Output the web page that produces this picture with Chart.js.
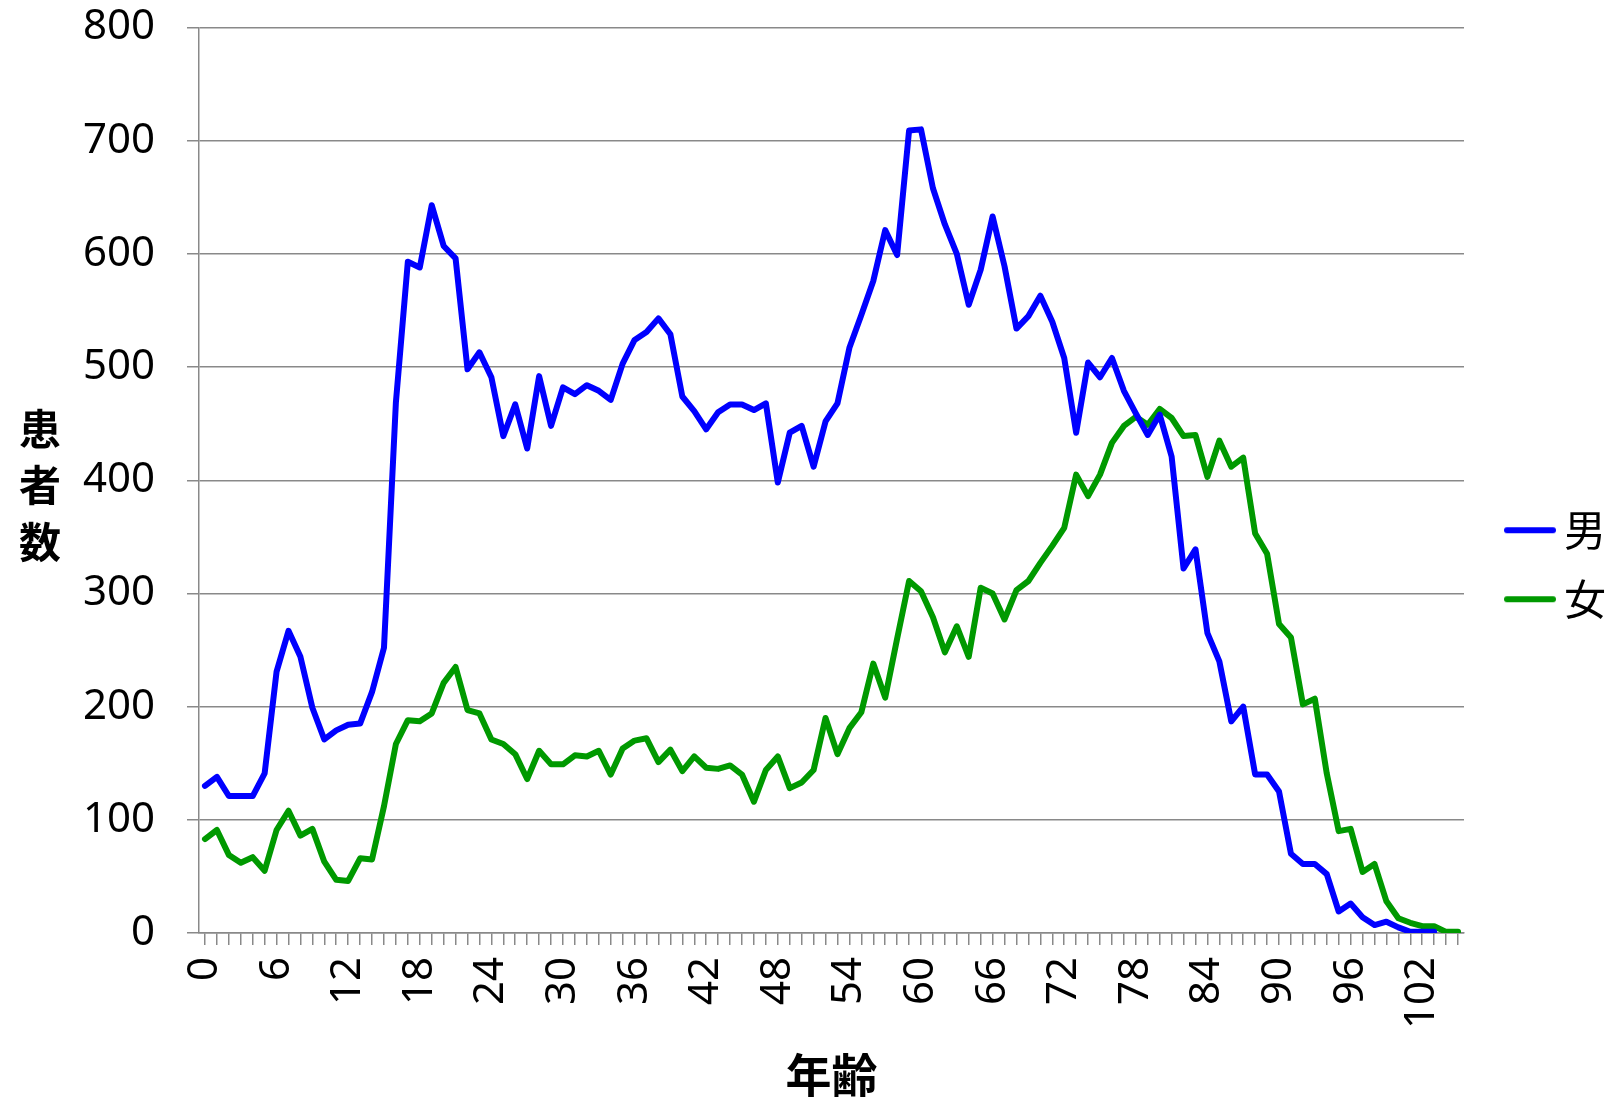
<!DOCTYPE html>
<html lang="ja">
<head>
<meta charset="utf-8">
<title>年齢別患者数</title>
<script src="https://cdn.jsdelivr.net/npm/chart.js@4.4.1/dist/chart.umd.min.js"></script>
<style>
  html, body { margin: 0; padding: 0; background: #fff; }
  #wrap { position: relative; width: 1616px; height: 1102px; }
</style>
</head>
<body>
<div id="wrap"><canvas id="grafico"></canvas></div>
<script>
// 年齢 (カテゴリ)
const ages = [
  '0','1','2','3','4','5','6','7','8','9',
  '10','11','12','13','14','15','16','17','18','19',
  '20','21','22','23','24','25','26','27','28','29',
  '30','31','32','33','34','35','36','37','38','39',
  '40','41','42','43','44','45','46','47','48','49',
  '50','51','52','53','54','55','56','57','58','59',
  '60','61','62','63','64','65','66','67','68','69',
  '70','71','72','73','74','75','76','77','78','79',
  '80','81','82','83','84','85','86','87','88','89',
  '90','91','92','93','94','95','96','97','98','99',
  '100','101','102','103','104','105'
];
// 目盛ラベル (6歳ごと)
const xTickLabels = ['0','6','12','18','24','30','36','42','48','54','60','66','72','78','84','90','96','102'];

// 患者数 男 (0〜103歳)
const male = [
  130, 138, 121, 121, 121, 141, 231, 267, 244, 199,
  171, 179, 184, 185, 213, 252, 469, 593, 588, 643,
  607, 596, 498, 513, 491, 439, 467, 428, 492, 448,
  482, 476, 484, 479, 471, 503, 524, 531, 543, 529,
  474, 461, 445, 460, 467, 467, 462, 468, 398, 442,
  448, 412, 452, 468, 517, 546, 576, 621, 599, 709,
  710, 658, 626, 600, 555, 586, 633, 589, 534, 545,
  563, 540, 508, 442, 504, 491, 508, 479, 459, 440,
  458, 421, 322, 339, 265, 240, 187, 200, 140, 140,
  125, 70, 61, 61, 52, 19, 26, 14, 7, 10,
  5, 1, 1, 1
];
// 患者数 女 (0〜105歳)
const female = [
  83, 91, 69, 62, 67, 55, 91, 108, 86, 92,
  63, 47, 46, 66, 65, 112, 167, 188, 187, 194,
  221, 235, 197, 194, 171, 167, 158, 136, 161, 149,
  149, 157, 156, 161, 140, 163, 170, 172, 151, 162,
  143, 156, 146, 145, 148, 140, 116, 144, 156, 128,
  133, 144, 190, 158, 181, 195, 238, 208, 260, 311,
  302, 279, 248, 271, 244, 305, 300, 277, 303, 311,
  327, 342, 358, 405, 386, 405, 433, 448, 456, 449,
  463, 455, 439, 440, 403, 435, 412, 420, 353, 335,
  273, 261, 202, 207, 141, 90, 92, 54, 61, 28,
  13, 9, 6, 6, 1, 1
];

const yTitle = ['患', '者', '数'];
const gridGray = '#898989';
const blue = '#0000ff';
const green = '#009900';

Chart.defaults.font.family = '"Noto Sans", "Noto Sans CJK JP", sans-serif';
Chart.defaults.color = '#000';

// 凡例の線 (文字に近づけるため右寄せで描く)
function legendMarker(color) {
  const c = document.createElement('canvas');
  c.width = 80;
  c.height = 10;
  const g = c.getContext('2d');
  g.strokeStyle = color;
  g.lineWidth = 6;
  g.lineCap = 'round';
  g.beginPath();
  g.moveTo(30, 5);
  g.lineTo(76, 5);
  g.stroke();
  return c;
}

// 縦書きの軸タイトル
const yTitlePlugin = {
  id: 'yTitle',
  afterDraw(chart) {
    const { ctx, chartArea } = chart;
    const mid = (chartArea.top + chartArea.bottom) / 2 + 5;
    ctx.save();
    ctx.font = 'bold 42px "Noto Sans CJK JP"';
    ctx.fillStyle = '#000';
    ctx.textAlign = 'center';
    ctx.textBaseline = 'middle';
    yTitle.forEach((ch, i) => ctx.fillText(ch, 40, mid + (i - 1) * 56.5));
    ctx.restore();
  }
};

const ctx = document.getElementById('grafico');
new Chart(ctx, {
  type: 'line',
  data: {
    labels: ages,
    datasets: [{
      label: '男',
      data: male,
      borderColor: blue,
      backgroundColor: blue,
      borderWidth: 6,
      pointRadius: 0,
      pointStyle: legendMarker(blue),
      borderJoinStyle: 'round',
      borderCapStyle: 'round',
      tension: 0
    }, {
      label: '女',
      data: female,
      borderColor: green,
      backgroundColor: green,
      borderWidth: 6,
      pointRadius: 0,
      pointStyle: legendMarker(green),
      borderJoinStyle: 'round',
      borderCapStyle: 'round',
      tension: 0
    }]
  },
  options: {
    responsive: true,
    maintainAspectRatio: false,
    animation: false,
    layout: { padding: { top: 27.5 } },
    plugins: {
      legend: {
        position: 'right',
        labels: {
          usePointStyle: true,
          pointStyleWidth: 52,
          padding: 27,
          color: '#000',
          font: { size: 42, family: '"Noto Sans CJK JP"' }
        }
      },
      tooltip: { enabled: false }
    },
    scales: {
      x: {
        offset: true,
        grid: { drawOnChartArea: false, drawTicks: true, tickLength: 12, color: gridGray, lineWidth: 1.5 },
        border: { color: gridGray, width: 1.5 },
        ticks: {
          autoSkip: false,
          minRotation: 90,
          maxRotation: 90,
          padding: 12,
          font: { size: 42 },
          callback: (v, i) => xTickLabels.includes(ages[i]) ? ages[i] : ''
        },
        title: {
          display: true,
          text: '年齢',
          font: { size: 46, weight: 'bold', family: '"Noto Sans CJK JP"' },
          padding: { top: 0, bottom: 0 }
        },
        afterFit(scale) {
          scale.height = 169;
          scale.paddingLeft = 0;
          scale.paddingRight = 0;
        }
      },
      y: {
        min: 0,
        max: 800,
        ticks: { stepSize: 100, padding: 32, font: { size: 42 } },
        grid: { color: gridGray, lineWidth: 1.5, tickLength: 12 },
        border: { color: gridGray, width: 1.5 },
        afterFit(scale) {
          scale.width = 199;
          scale.paddingTop = 0;
          scale.paddingBottom = 0;
        }
      }
    }
  },
  plugins: [yTitlePlugin]
});
</script>
</body>
</html>
